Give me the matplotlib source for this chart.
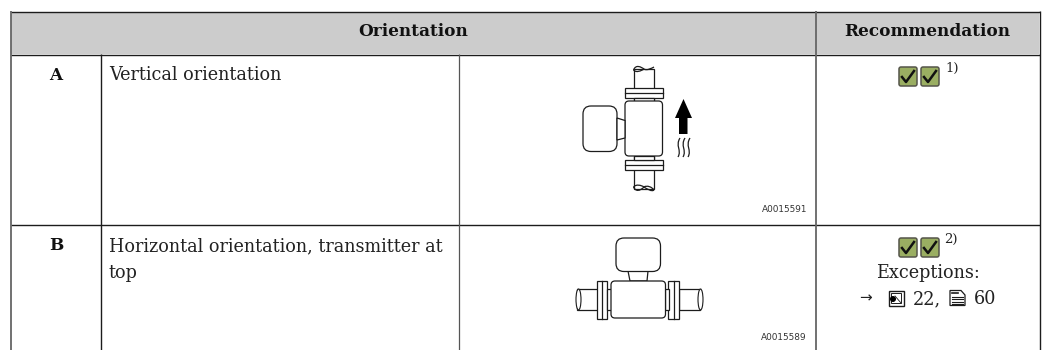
#!/usr/bin/python3
# -*- coding: utf-8 -*-

import matplotlib
matplotlib.use("Agg")
import matplotlib.pyplot as plt
import matplotlib.patches as mpatches
from matplotlib.path import Path

# table contents
headers = ["Orientation", "Recommendation"]
row_keys = ["A", "B"]
row_lines_a = ["Vertical orientation"]
row_lines_b = ["Horizontal orientation, transmitter at", "top"]
image_ids = ["A0015591", "A0015589"]
notes = ["1)", "2)"]
exceptions = "Exceptions:"
figure_ref = "22,"
page_ref = "60"

W, H = 1045, 350
LINE = "#1c1c1c"
SERIF = "DejaVu Serif"
SIZE = 12.7
BOLD_SIZE = 12.2

fig = plt.figure(figsize=(W / 100, H / 100), dpi=100)
ax = fig.add_axes([0, 0, 1, 1])
ax.set_xlim(0, W)
ax.set_ylim(H, 0)
ax.axis("off")


def hline(x0, x1, y, lw=1.0, c=LINE):
    ax.plot([x0, x1], [y, y], color=c, lw=lw, solid_capstyle="butt")


def vline(x, y0, y1, lw=1.0, c=LINE):
    ax.plot([x, x], [y0, y1], color=c, lw=lw, solid_capstyle="butt")


def rbox(x0, y0, x1, y1, r=4, lw=0.9, fc="white"):
    ax.add_patch(mpatches.FancyBboxPatch((x0 + r, y0 + r), x1 - x0 - 2 * r, y1 - y0 - 2 * r,
                                         boxstyle="round,pad=%f,rounding_size=%f" % (r, r),
                                         fc=fc, ec=LINE, lw=lw, zorder=3))


def box(x0, y0, x1, y1, lw=0.9, z=3):
    ax.add_patch(mpatches.Rectangle((x0, y0), x1 - x0, y1 - y0, fc="white", ec=LINE, lw=lw, zorder=z))


def curve(pts, lw=0.9):
    codes = [Path.MOVETO] + [Path.CURVE4] * (len(pts) - 1)
    ax.add_patch(mpatches.PathPatch(Path(pts, codes), fc="none", ec=LINE, lw=lw, zorder=4))


def check(x, y):
    ax.add_patch(mpatches.FancyBboxPatch((x + 2, y + 2), 14, 15, boxstyle="round,pad=2,rounding_size=2",
                                         fc="#9aae62", ec="#55554a", lw=1.1, zorder=3))
    ax.plot([x + 3, x + 7, x + 15], [y + 10, y + 15, y + 4], color="#111111", lw=1.8, zorder=4)


# header band and frame
ax.add_patch(mpatches.Rectangle((11, 12), 1028, 42, fc="#cccccc", ec="none"))
hline(11, 1040, 11.5)
hline(11, 1040, 54.5)
hline(11, 1040, 225)
vline(11, 11, 350, lw=1.3, c="#666666")
vline(815.5, 11, 350, lw=1.3, c="#666666")
vline(1039.5, 11, 350)
vline(100.5, 54, 350)
vline(458.5, 54, 350, lw=0.9, c="#555555")

# text
ax.text(413, 32, headers[0], family=SERIF, weight="bold", fontsize=BOLD_SIZE, ha="center", va="center", color="#111111")
ax.text(927, 32, headers[1], family=SERIF, weight="bold", fontsize=BOLD_SIZE, ha="center", va="center", color="#111111")
ax.text(56, 75, row_keys[0], family=SERIF, weight="bold", fontsize=BOLD_SIZE, ha="center", va="center", color="#111111")
ax.text(56, 246, row_keys[1], family=SERIF, weight="bold", fontsize=BOLD_SIZE, ha="center", va="center", color="#111111")
ax.text(109, 75, row_lines_a[0], family=SERIF, fontsize=SIZE, va="center", color="#222222")
ax.text(109, 246, row_lines_b[0], family=SERIF, fontsize=SIZE, va="center", color="#222222")
ax.text(109, 273, row_lines_b[1], family=SERIF, fontsize=SIZE, va="center", color="#222222")
ax.text(807, 210, image_ids[0], fontsize=6.4, ha="right", va="center", color="#333333", family="DejaVu Sans")
ax.text(807, 337, image_ids[1], fontsize=6.4, ha="right", va="center", color="#333333", family="DejaVu Sans")

# recommendation marks
check(899, 67)
check(921, 67)
ax.text(945, 68, notes[0], family=SERIF, fontsize=9.5, ha="left", va="center", color="#222222")
check(899, 238)
check(921, 238)
ax.text(944, 239, notes[1], family=SERIF, fontsize=9.5, ha="left", va="center", color="#222222")
ax.text(927.5, 273, exceptions, family=SERIF, fontsize=SIZE, ha="center", va="center", color="#222222")
ax.text(866, 298, "\u2192", fontsize=11, ha="center", va="center", color="#222222", family="DejaVu Sans")
ax.text(913, 299, figure_ref, family=SERIF, fontsize=SIZE, ha="left", va="center", color="#222222")
ax.text(974, 299, page_ref, family=SERIF, fontsize=SIZE, ha="left", va="center", color="#222222")

# figure and page icons
box(888.5, 290.5, 903.5, 305.5, lw=1.0)
box(891, 293, 901, 303, lw=0.7, z=4)
ax.add_patch(mpatches.Circle((893, 299), 3, fc="black", ec="none", zorder=5))
ax.plot([895, 901], [296, 303], color=LINE, lw=0.6, zorder=5)
ax.add_patch(mpatches.Polygon([(950, 290.5), (961, 290.5), (965, 295), (965, 305.5), (950, 305.5)],
                              fc="white", ec=LINE, lw=0.9, zorder=3))
for yy in [296.5, 299, 301.5, 304]:
    ax.plot([952, 963], [yy, yy], color=LINE, lw=0.8, zorder=4)
ax.plot([951.5, 958], [293, 293], color=LINE, lw=1.2, zorder=4)

# vertical device
box(633.5, 69, 654, 100)
box(633.5, 155, 654, 189)
box(625, 87.5, 663, 98)
ax.plot([625, 663], [93, 93], color=LINE, lw=0.9, zorder=4)
box(625, 159.5, 663, 170)
ax.plot([625, 663], [164.5, 164.5], color=LINE, lw=0.9, zorder=4)
box(633.5, 98, 654, 102)
box(633.5, 156, 654, 160)
rbox(625, 101, 662.5, 156)
rbox(583, 106, 617, 151.5, r=8)
ax.add_patch(mpatches.Polygon([(617, 118), (625, 120.5), (625, 138), (617, 140)], fc="white", ec=LINE, lw=0.9, zorder=3))
curve([(633.5, 70), (636, 64), (641, 67), (644, 69), (647, 71), (652, 68), (654, 67)])
curve([(633.5, 70), (636, 73), (641, 71), (644, 69)])
curve([(633.5, 187), (636, 192), (640, 191), (644, 187), (647, 185), (652, 187), (654, 190)])
curve([(633.5, 187), (636, 184), (641, 185), (644, 187), (647, 189), (652, 192), (654, 190)])
ax.add_patch(mpatches.Polygon([(679, 134), (679, 118), (675, 118), (683.5, 99), (692, 118), (687.5, 118), (687.5, 134)],
                              fc="black", ec="none", zorder=3))
for x in [679, 684, 689]:
    curve([(x + 1, 138), (x - 4, 146), (x + 3, 150), (x - 1, 157)])

# horizontal device
box(577, 289, 598, 310)
box(679, 289, 700, 310)
box(597, 281, 607, 319)
ax.plot([602, 602], [281, 319], color=LINE, lw=0.9, zorder=4)
box(668, 281, 679, 319)
ax.plot([673.5, 673.5], [281, 319], color=LINE, lw=0.9, zorder=4)
box(607, 289, 612, 310)
box(665, 289, 669, 310)
ax.add_patch(mpatches.Polygon([(628, 271), (648, 271), (647, 281), (630, 281)], fc="white", ec=LINE, lw=0.9, zorder=3))
rbox(611, 281, 665.5, 318)
rbox(616, 238, 660.5, 271.5, r=8)
for x in [576, 698]:
    ax.add_patch(mpatches.Ellipse((x + 2.5, 299.5), 5, 21, fc="white", ec=LINE, lw=0.8, zorder=4))

fig.savefig("out.png", dpi=100)
